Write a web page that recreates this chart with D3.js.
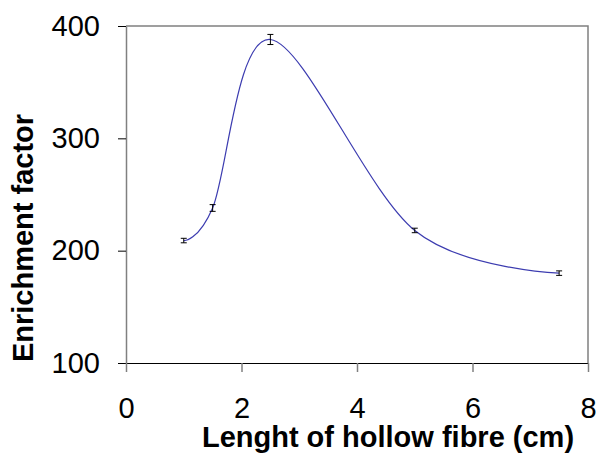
<!DOCTYPE html>
<html lang="en">
<head>
    <meta charset="UTF-8">
    <title>Enrichment factor vs hollow fibre length</title>
    <style>
        body { margin: 0; background: #fff; }
        svg { display: block; font-family: "Liberation Sans", Arial, sans-serif; }
    </style>
</head>
<body>
    <div id="chart"></div>
    <script src="https://cdn.jsdelivr.net/npm/d3@7"></script>
    <script>
        // Data
        const lengths = [1, 1.5, 2.5, 5, 7.5];
        const enrichment = [209, 238, 388, 218, 180];
        const errors = [2, 3, 4.5, 2, 2];
        const xTicks = [0, 2, 4, 6, 8];
        const yTicks = [100, 200, 300, 400];

        const width = 600;
        const height = 454;
        const marginTop = 26;
        const marginRight = 12;
        const marginBottom = 91;
        const marginLeft = 126;

        const points = lengths.map((d, i) => ({ x: d, y: enrichment[i], err: errors[i] }));

        const x = d3.scaleLinear()
            .domain([0, 8])
            .range([marginLeft, width - marginRight]);

        const y = d3.scaleLinear()
            .domain([100, 400])
            .range([height - marginBottom, marginTop]);

        const svg = d3.select("#chart").append("svg")
            .attr("width", width)
            .attr("height", height)
            .attr("viewBox", [0, 0, width, height]);

        // plot frame (top and right)
        svg.append("path")
            .attr("d", `M${x(0)},${y(400)}H${x(8)}V${y(100)}`)
            .attr("fill", "none")
            .attr("stroke", "#808080")
            .attr("stroke-width", 1.5);

        // y axis
        const yAxis = svg.append("g")
            .attr("transform", `translate(${marginLeft},0)`)
            .call(d3.axisLeft(y).tickValues(yTicks).tickSize(8).tickPadding(18).tickSizeOuter(0));
        yAxis.select(".domain").attr("stroke", "#808080").attr("stroke-width", 1.5);
        yAxis.selectAll(".tick line").attr("stroke", "#000");
        yAxis.selectAll(".tick text")
            .attr("font-size", 29)
            .attr("font-family", "Liberation Sans, Arial, sans-serif")
            .attr("fill", "#000");

        // x axis
        const xAxis = svg.append("g")
            .attr("transform", `translate(0,${height - marginBottom})`)
            .call(d3.axisBottom(x).tickValues(xTicks).tickSize(9).tickPadding(25).tickSizeOuter(0));
        xAxis.select(".domain").attr("stroke", "#000").attr("stroke-width", 1);
        xAxis.selectAll(".tick line").attr("stroke", "#808080").attr("stroke-width", 1.5);
        xAxis.selectAll(".tick text")
            .attr("font-size", 29)
            .attr("font-family", "Liberation Sans, Arial, sans-serif")
            .attr("fill", "#000");

        // smoothed line
        const line = d3.line()
            .x(d => x(d.x))
            .y(d => y(d.y))
            .curve(d3.curveCardinal.tension(0));

        svg.append("path")
            .datum(points)
            .attr("fill", "none")
            .attr("stroke", "#3c3cb0")
            .attr("stroke-width", 1.2)
            .attr("d", line);

        // error bars
        const bars = svg.append("g")
            .attr("stroke", "#000")
            .attr("stroke-width", 1)
            .selectAll("g")
            .data(points)
            .join("g");

        bars.append("line")
            .attr("x1", d => x(d.x)).attr("x2", d => x(d.x))
            .attr("y1", d => y(d.y - d.err)).attr("y2", d => y(d.y + d.err));
        bars.append("line")
            .attr("x1", d => x(d.x) - 3).attr("x2", d => x(d.x) + 3)
            .attr("y1", d => y(d.y - d.err)).attr("y2", d => y(d.y - d.err));
        bars.append("line")
            .attr("x1", d => x(d.x) - 3).attr("x2", d => x(d.x) + 3)
            .attr("y1", d => y(d.y + d.err)).attr("y2", d => y(d.y + d.err));

        // axis titles
        svg.append("text")
            .attr("x", 388)
            .attr("y", 447)
            .attr("text-anchor", "middle")
            .attr("font-size", 29)
            .attr("font-weight", "bold")
            .text("Lenght of hollow fibre (cm)");

        svg.append("text")
            .attr("transform", `translate(33,238) rotate(-90)`)
            .attr("text-anchor", "middle")
            .attr("font-size", 29)
            .attr("font-weight", "bold")
            .text("Enrichment factor");
    </script>
</body>
</html>
